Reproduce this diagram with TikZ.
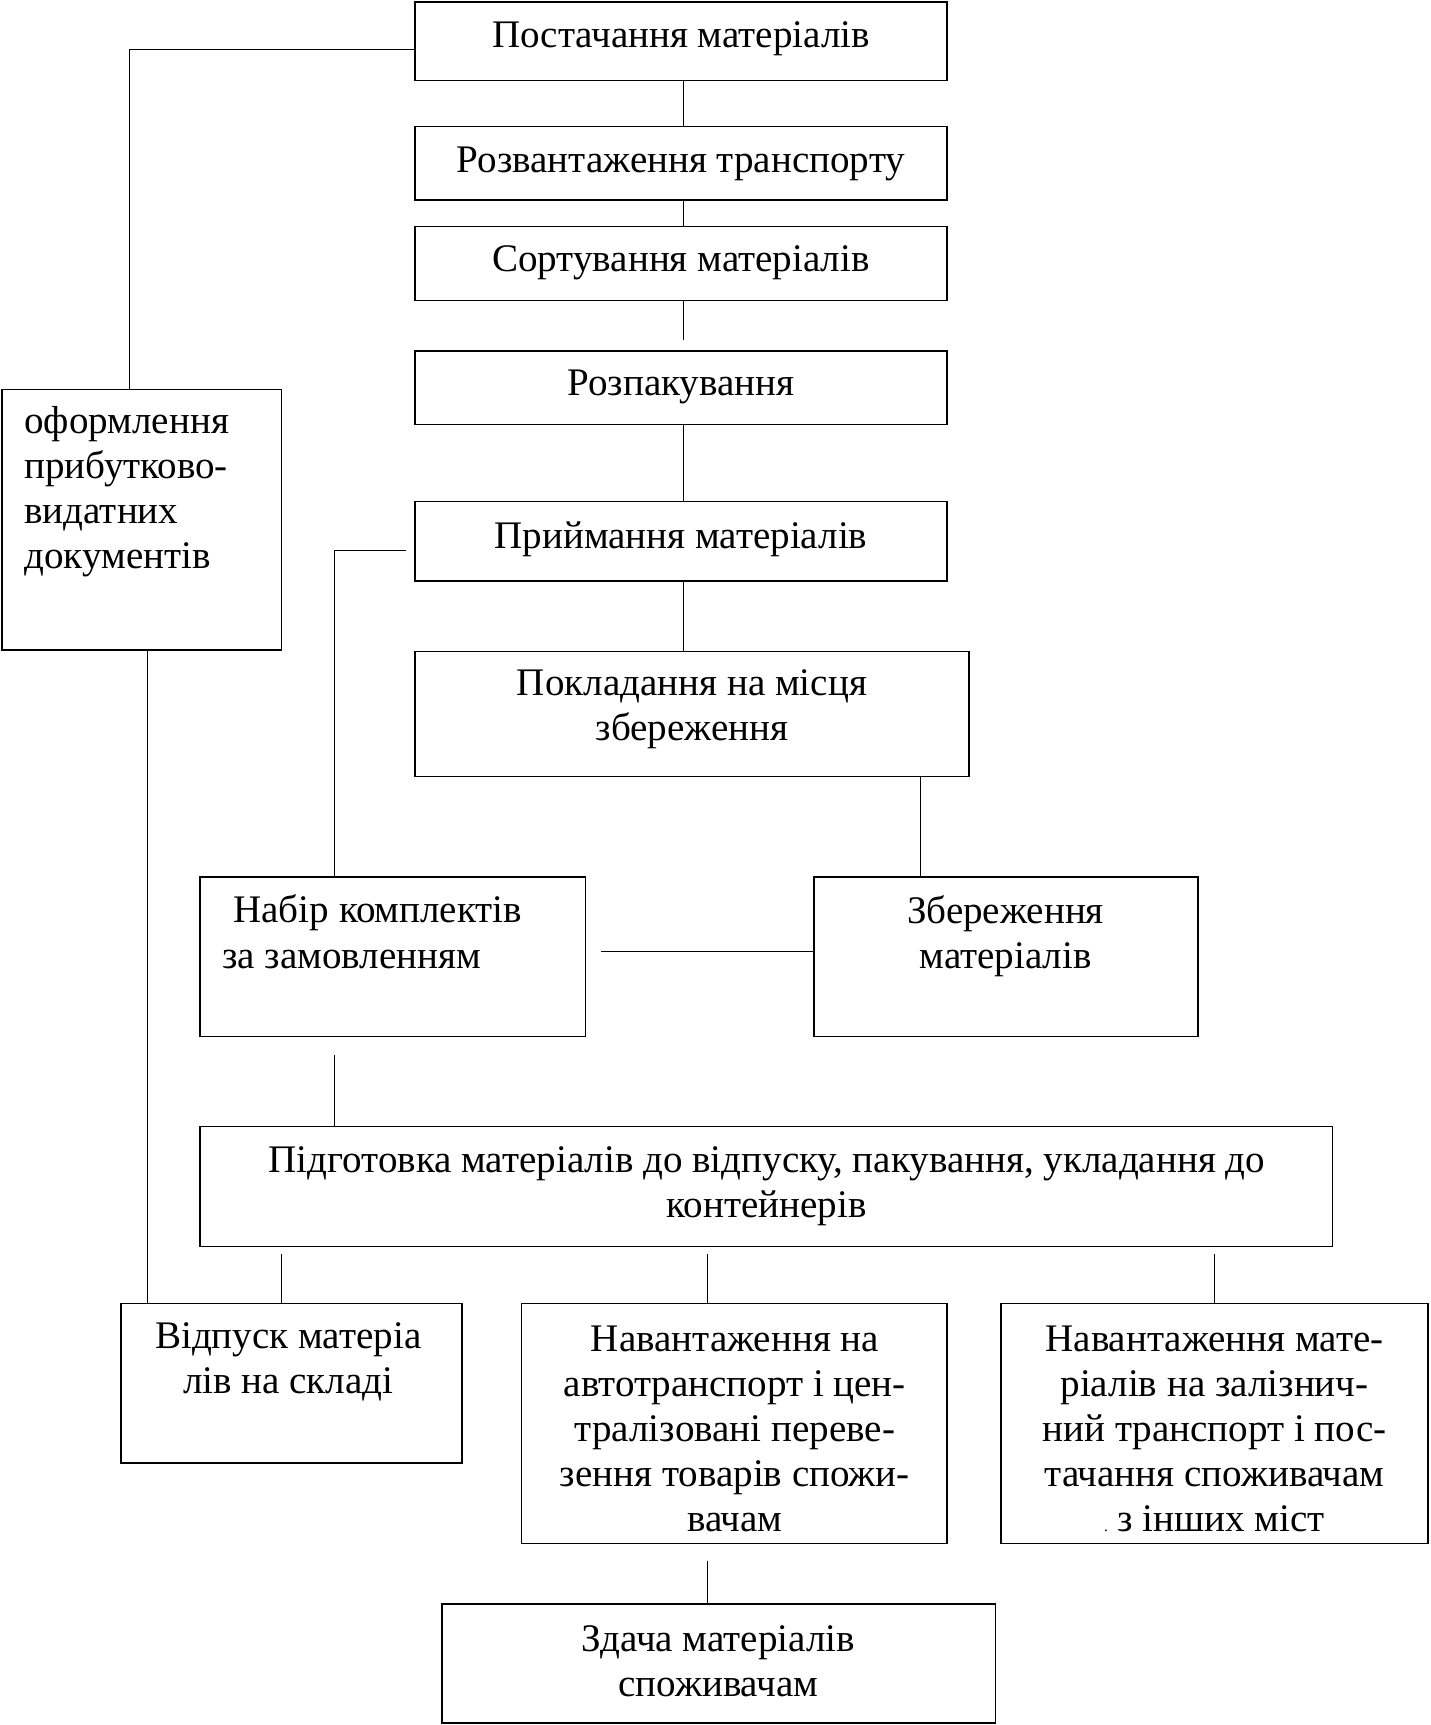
\documentclass[tikz,border=0pt]{standalone}
\usepackage{fontspec}
\setmainfont{Liberation Serif}
\begin{document}
\begin{tikzpicture}[x=1pt,y=-1pt,
  box/.style={draw, line width=1.4pt, inner sep=0pt},
  lbl/.style={inner sep=0pt, font=\fontsize{35.5}{41}\selectfont, align=center},
  link/.style={line width=0.9pt}]
\useasboundingbox (0,0) rectangle (1300,1568);
% boxes
\node[box, minimum width=484pt, minimum height=71pt] (b1) at (619,37.5) {};
\node[box, minimum width=484pt, minimum height=67pt] (b2) at (619,148.5) {};
\node[box, minimum width=484pt, minimum height=67pt] (b3) at (619,239.5) {};
\node[box, minimum width=484pt, minimum height=67pt] (b4) at (619,352.5) {};
\node[box, minimum width=484pt, minimum height=72pt] (b5) at (619,492) {};
\node[box, minimum width=504pt, minimum height=114pt] (b6) at (629,649) {};
\node[box, minimum width=350pt, minimum height=145pt] (b7) at (357,869.5) {};
\node[box, minimum width=349pt, minimum height=145pt] (b8) at (914.5,869.5) {};
\node[box, minimum width=1029pt, minimum height=109pt] (b9) at (696.5,1078.5) {};
\node[box, minimum width=310pt, minimum height=145pt] (b10) at (265,1257.5) {};
\node[box, minimum width=387pt, minimum height=218pt] (b11) at (667.5,1294) {};
\node[box, minimum width=388pt, minimum height=218pt] (b12) at (1104,1294) {};
\node[box, minimum width=503pt, minimum height=108pt] (b13) at (653.5,1512) {};
\node[box, minimum width=254pt, minimum height=237pt] (b0) at (129,472.5) {};
% labels
\node[lbl] (t1) at (619,35) {Постачання матеріалів};
\node[lbl] (t2) at (619,149) {Розвантаження транспорту};
\node[lbl] (t3) at (619,239) {Сортування матеріалів};
\node[lbl] (t4) at (619,352) {Розпакування};
\node[lbl] (t5) at (619,490) {Приймання матеріалів};
\node[lbl] (t6) at (629,645) {Покладання на місця\\збереження};
\node[lbl, anchor=west] (t7a) at (212,830) {Набір комплектів};
\node[lbl, anchor=west] (t7b) at (202,872) {за замовленням};
\node[lbl] (t8) at (914,851) {Збереження\\матеріалів};
\node[lbl] (t9) at (697,1078) {Підготовка матеріалів до відпуску, пакування, укладання до\\контейнерів};
\node[lbl] (t10) at (262,1238) {Відпуск матеріа\\лів на складі};
\node[lbl] (t11) at (668,1299) {Навантаження на\\автотранспорт і цен-\\тралізовані переве-\\зення товарів спожи-\\вачам};
\node[lbl] (t12) at (1104,1299) {Навантаження мате-\\ріалів на залізнич-\\ний транспорт і пос-\\тачання споживачам\\{\fontsize{14}{14}\selectfont.}\ з інших міст};
\node[lbl] (t13) at (653,1510) {Здача матеріалів\\споживачам};
\node[lbl, align=left, anchor=west] (t0) at (22,447) {оформлення\\прибутково-\\видатних\\документів};
% connectors
\draw[link] ([yshift=-7.5pt]b1.west) -| ([xshift=-11pt]b0.north);
\draw[link] ([xshift=2pt]b1.south) -- ([xshift=2pt]b2.north);
\draw[link] ([xshift=2pt]b2.south) -- ([xshift=2pt]b3.north);
\draw[link] ([xshift=2pt]b3.south) -- ([xshift=2pt,yshift=9pt]b4.north);
\draw[link] ([xshift=2pt]b4.south) -- ([xshift=2pt]b5.north);
\draw[link] ([xshift=2pt]b5.south) -- ([xshift=2pt]b5.south |- b6.north);
\draw[link] ([xshift=208pt]b6.south) -- ([xshift=208pt]b6.south |- b8.north);
\draw[link] ([xshift=-7pt,yshift=-8pt]b5.west) -| ([xshift=-53pt]b7.north);
\draw[link] ([xshift=14pt,yshift=4.5pt]b7.east) -- ([yshift=4.5pt]b8.west);
\draw[link] ([xshift=-53pt,yshift=-16pt]b7.south) -- ([xshift=-53pt]b7.south |- b9.north);
\coordinate (c10) at (256,1140);
\coordinate (c11) at (643,1140);
\coordinate (c12) at (1104,1140);
\draw[link] (c10) -- (c10 |- b10.north);
\draw[link] (c11) -- (c11 |- b11.north);
\draw[link] (c12) -- (c12 |- b12.north);
\draw[link] ([xshift=-24.5pt,yshift=-15pt]b11.south) -- ([xshift=-24.5pt]b11.south |- b13.north);
\draw[link] ([xshift=5pt]b0.south) -- ([xshift=5pt]b0.south |- b10.north);
\end{tikzpicture}
\end{document}
